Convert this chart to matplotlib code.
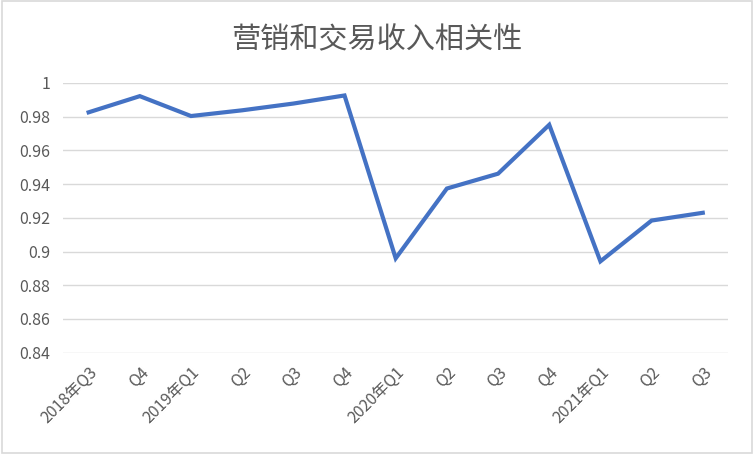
import matplotlib.pyplot as plt
from matplotlib.patches import Rectangle

plt.rcParams['font.family'] = ['Noto Sans CJK SC', 'DejaVu Sans']

# Data
quarters = ['2018年Q3', 'Q4', '2019年Q1', 'Q2', 'Q3', 'Q4', '2020年Q1',
            'Q2', 'Q3', 'Q4', '2021年Q1', 'Q2', 'Q3']
correlation = [0.9826, 0.9922, 0.9804, 0.9838, 0.9878, 0.9926, 0.8960,
               0.9374, 0.9462, 0.9752, 0.8942, 0.9184, 0.9230]
yticks = [0.84, 0.86, 0.88, 0.9, 0.92, 0.94, 0.96, 0.98, 1]
ytick_labels = ['0.84', '0.86', '0.88', '0.9', '0.92', '0.94', '0.96', '0.98', '1']

text_color = '#595959'
grid_color = '#D9D9D9'

fig = plt.figure(figsize=(7.54, 4.54), dpi=100)
ax = fig.add_axes([0.0836, 0.2231, 0.8824, 0.5941])

x = list(range(len(quarters)))
ax.plot(x, correlation, color='#4472C4', linewidth=3.0, solid_joinstyle='miter')

ax.set_xlim(-0.5, len(quarters) - 0.5)
ax.set_ylim(0.84, 1.0)
ax.set_yticks(yticks)
ax.set_yticklabels(ytick_labels)
ax.set_xticks(x)
ax.set_xticklabels(quarters, rotation=45, ha='right', rotation_mode='anchor')

ax.grid(axis='y', color=grid_color, linewidth=1)
ax.set_axisbelow(True)
for s in ax.spines.values():
    s.set_visible(False)
ax.tick_params(axis='both', length=0, colors=text_color, labelsize=11.5)
ax.tick_params(axis='y', pad=9)
ax.tick_params(axis='x', pad=8)
for lab in ax.get_xticklabels() + ax.get_yticklabels():
    lab.set_fontweight('light')

fig.text(0.5, 0.912, '营销和交易收入相关性', ha='center', va='center',
         fontsize=21, color=text_color, fontweight='light')

fig.patches.append(Rectangle((0.002, 0.003), 0.996, 0.994, transform=fig.transFigure,
                             fill=False, edgecolor=grid_color, linewidth=1.2))

fig.savefig('out.png', dpi=100)
